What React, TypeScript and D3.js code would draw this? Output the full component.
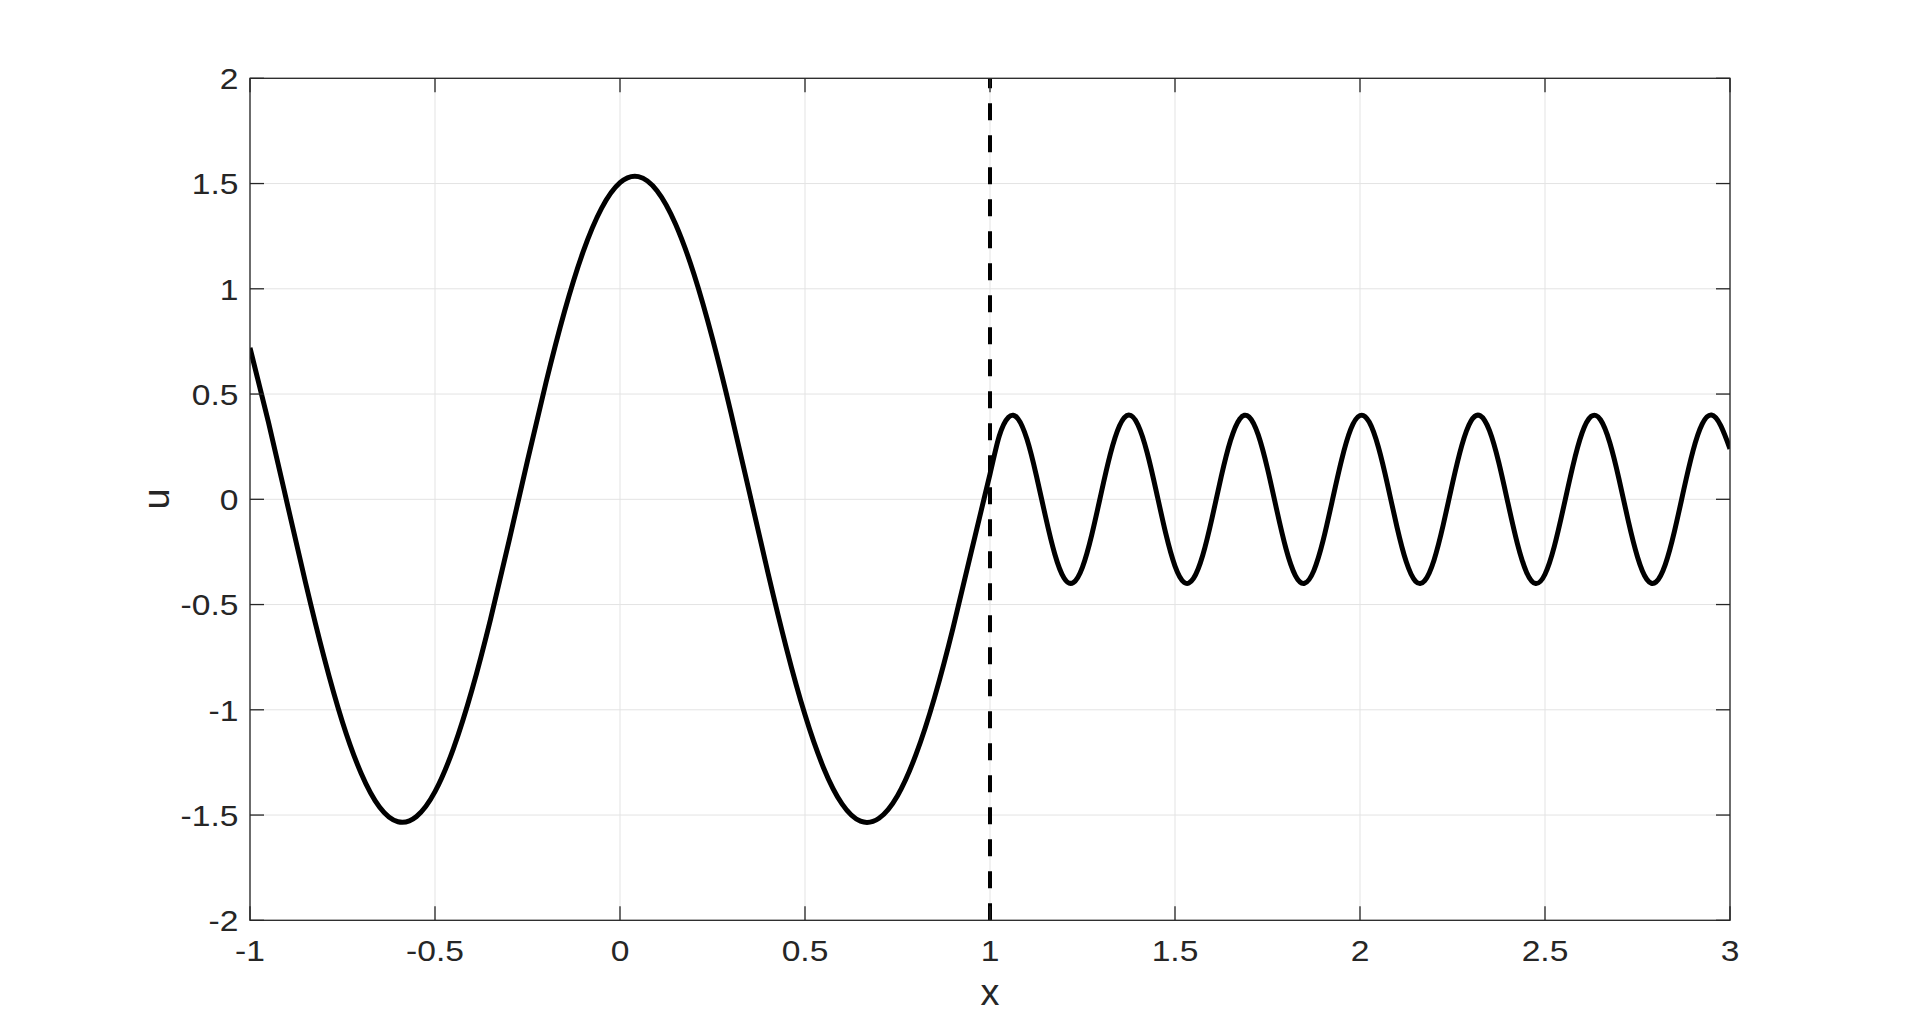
import React from "react";
import * as d3 from "d3";

// ---- Data ----
const xTicks = [-1, -0.5, 0, 0.5, 1, 1.5, 2, 2.5, 3];
const yTicks = [-2, -1.5, -1, -0.5, 0, 0.5, 1, 1.5, 2];
const xTickLabels = ["-1", "-0.5", "0", "0.5", "1", "1.5", "2", "2.5", "3"];
const yTickLabels = ["-2", "-1.5", "-1", "-0.5", "0", "0.5", "1", "1.5", "2"];

// left region (x from -1 to 1)
const leftX = [
  -1, -0.95, -0.9, -0.85, -0.8, -0.75, -0.7, -0.65, -0.6, -0.55, -0.5, -0.45, -0.4, -0.35,
  -0.3, -0.25, -0.2, -0.15, -0.1, -0.05, 0, 0.05, 0.1, 0.15, 0.2, 0.25, 0.3, 0.35, 0.4,
  0.45, 0.5, 0.55, 0.6, 0.65, 0.7, 0.75, 0.8, 0.85, 0.9, 0.95, 1.0,
];
const leftU = [
  0.72, 0.365, -0.016, -0.395, -0.75, -1.059, -1.3, -1.462, -1.532, -1.507, -1.389, -1.183,
  -0.905, -0.57, -0.199, 0.184, 0.555, 0.892, 1.174, 1.382, 1.504, 1.533, 1.466, 1.308,
  1.069, 0.763, 0.41, 0.031, -0.35, -0.709, -1.024, -1.275, -1.447, -1.529, -1.515, -1.408,
  -1.212, -0.942, -0.612, -0.245, 0.12,
];

// right region (x from 1 to 3)
const rightX = [
  1.025, 1.05, 1.075, 1.1, 1.125, 1.15, 1.175, 1.2, 1.225, 1.25, 1.275, 1.3, 1.325, 1.35,
  1.375, 1.4, 1.425, 1.45, 1.475, 1.5, 1.525, 1.55, 1.575, 1.6, 1.625, 1.65, 1.675, 1.7,
  1.725, 1.75, 1.775, 1.8, 1.825, 1.85, 1.875, 1.9, 1.925, 1.95, 1.975, 2.0, 2.025, 2.05,
  2.075, 2.1, 2.125, 2.15, 2.175, 2.2, 2.225, 2.25, 2.275, 2.3, 2.325, 2.35, 2.375, 2.4,
  2.425, 2.45, 2.475, 2.5, 2.525, 2.55, 2.575, 2.6, 2.625, 2.65, 2.675, 2.7, 2.725, 2.75,
  2.775, 2.8, 2.825, 2.85, 2.875, 2.9, 2.925, 2.95, 2.975, 3.0,
];
const rightU = [
  0.301, 0.39, 0.384, 0.285, 0.115, -0.082, -0.26, -0.374, -0.396, -0.322, -0.169, 0.025,
  0.213, 0.349, 0.4, 0.353, 0.22, 0.033, -0.162, -0.317, -0.395, -0.376, -0.266, -0.09,
  0.108, 0.279, 0.382, 0.392, 0.306, 0.145, -0.051, -0.235, -0.361, -0.399, -0.34, -0.198,
  -0.007, 0.185, 0.333, 0.398, 0.367, 0.246, 0.065, -0.132, -0.297, -0.389, -0.386, -0.289,
  -0.121, 0.076, 0.255, 0.372, 0.397, 0.326, 0.175, -0.019, -0.208, -0.346, -0.4, -0.356,
  -0.225, -0.039, 0.156, 0.314, 0.394, 0.378, 0.27, 0.096, -0.102, -0.274, -0.38, -0.393,
  -0.31, -0.151, 0.045, 0.23, 0.358, 0.4, 0.35, 0.24,
];

const interfaceX = 1;
const xLabel = "x";
const yLabel = "u";

export default function App() {
  const W = 1912;
  const H = 1034;
  const left = 250;
  const right = 1730;
  const top = 78.3;
  const bottom = 920.3;

  const xScale = d3.scaleLinear().domain([-1, 3]).range([left, right]);
  const yScale = d3.scaleLinear().domain([-2, 2]).range([bottom, top]);

  const pts: [number, number][] = [];
  leftX.forEach((x, i) => pts.push([x, leftU[i]]));
  rightX.forEach((x, i) => pts.push([x, rightU[i]]));

  const line = d3
    .line<[number, number]>()
    .x((d) => xScale(d[0]))
    .y((d) => yScale(d[1]))
    .curve(d3.curveNatural);

  const axisColor = "#262626";
  const gridColor = "#e3e3e3";
  const tickLen = 14;
  const font = "'Liberation Sans', Arial, Helvetica, sans-serif";
  const sx = 1.12; // horizontal stretch of glyphs seen in the reference

  return (
    <div style={{ position: "fixed", left: 0, top: 0, width: W, height: H, background: "#fff" }}>
      <svg width={W} height={H} style={{ display: "block" }}>
        <defs>
          <clipPath id="plotClip">
            <rect x={left} y={top} width={right - left} height={bottom - top} />
          </clipPath>
        </defs>
        <rect x={0} y={0} width={W} height={H} fill="#fff" />
        {/* grid */}
        {xTicks.map((t) => (
          <line key={"gx" + t} x1={xScale(t)} x2={xScale(t)} y1={top} y2={bottom} stroke={gridColor} strokeWidth={1} />
        ))}
        {yTicks.map((t) => (
          <line key={"gy" + t} x1={left} x2={right} y1={yScale(t)} y2={yScale(t)} stroke={gridColor} strokeWidth={1} />
        ))}
        {/* curve */}
        <g clipPath="url(#plotClip)">
          <path d={line(pts) || ""} fill="none" stroke="#000" strokeWidth={5} strokeLinejoin="round" />
        </g>
        {/* dashed interface line, drawn from bottom to top */}
        <line
          x1={xScale(interfaceX)}
          x2={xScale(interfaceX)}
          y1={yScale(-2)}
          y2={yScale(2)}
          stroke="#000"
          strokeWidth={4}
          strokeDasharray="17,15"
        />
        {/* ticks */}
        {xTicks.map((t) => (
          <g key={"tx" + t}>
            <line x1={xScale(t)} x2={xScale(t)} y1={bottom} y2={bottom - tickLen} stroke={axisColor} strokeWidth={1.3} />
            <line x1={xScale(t)} x2={xScale(t)} y1={top} y2={top + tickLen} stroke={axisColor} strokeWidth={1.3} />
          </g>
        ))}
        {yTicks.map((t) => (
          <g key={"ty" + t}>
            <line x1={left} x2={left + tickLen} y1={yScale(t)} y2={yScale(t)} stroke={axisColor} strokeWidth={1.3} />
            <line x1={right} x2={right - tickLen} y1={yScale(t)} y2={yScale(t)} stroke={axisColor} strokeWidth={1.3} />
          </g>
        ))}
        {/* box */}
        <rect x={left} y={top} width={right - left} height={bottom - top} fill="none" stroke={axisColor} strokeWidth={1.3} />
        {/* tick labels */}
        {xTicks.map((t, i) => (
          <text
            key={"lx" + t}
            transform={`translate(${xScale(t)},960.5) scale(${sx},1)`}
            textAnchor="middle"
            fontFamily={font}
            fontSize={30}
            fill={axisColor}
          >
            {xTickLabels[i]}
          </text>
        ))}
        {yTicks.map((t, i) => (
          <text
            key={"ly" + t}
            transform={`translate(238.5,${yScale(t) + 10.8}) scale(${sx},1)`}
            textAnchor="end"
            fontFamily={font}
            fontSize={30}
            fill={axisColor}
          >
            {yTickLabels[i]}
          </text>
        ))}
        {/* axis labels */}
        <text
          transform={`translate(${xScale(1)},1005) scale(1.05,1)`}
          textAnchor="middle"
          fontFamily={font}
          fontSize={36}
          fill={axisColor}
        >
          {xLabel}
        </text>
        <text
          transform={`translate(168.5,499) rotate(-90) scale(1.05,1)`}
          textAnchor="middle"
          fontFamily={font}
          fontSize={36}
          fill={axisColor}
        >
          {yLabel}
        </text>
      </svg>
    </div>
  );
}
